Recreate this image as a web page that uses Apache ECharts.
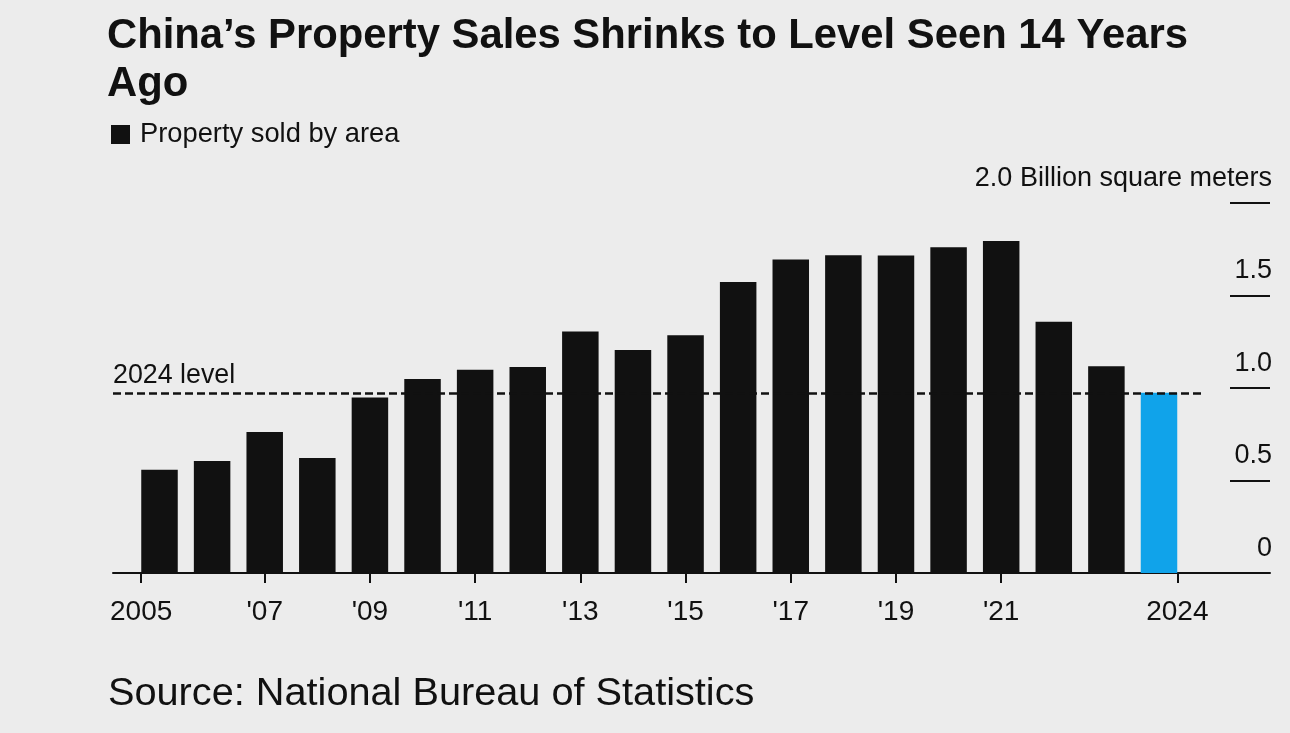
<!DOCTYPE html>
<html>
<head>
<meta charset="utf-8">
<script src="https://cdn.jsdelivr.net/npm/echarts@6/dist/echarts.min.js"></script>
<style>
html,body{margin:0;padding:0;background:#ececec;}
#chart{width:1290px;height:733px;}
</style>
</head>
<body>
<div id="chart"></div>
<script>
// ---- data ----
const years = [2005,2006,2007,2008,2009,2010,2011,2012,2013,2014,2015,2016,2017,2018,2019,2020,2021,2022,2023,2024];
const soldArea = [0.558,0.606,0.762,0.621,0.948,1.048,1.099,1.113,1.306,1.206,1.285,1.573,1.694,1.717,1.716,1.761,1.794,1.358,1.117,0.974];
const tickYears = [2005,2007,2009,2011,2013,2015,2017,2019,2021,2024];
const tickLabels = ['2005',"'07","'09","'11","'13","'15","'17","'19","'21",'2024'];
const yTicks = [0,0.5,1.0,1.5,2.0];
const yTickLabels = ['0','0.5','1.0','1.5','2.0 Billion square meters'];

const FONT = '"Liberation Sans", Arial, Helvetica, sans-serif';
const INK = '#111111';
const BLUE = '#10a3ea';
const halfBar = 0.348; // half bar width in years
const xMin = 2004.116, xMax = 2026.11;

// first/last tick sit on outer bar edges
const tickPos = tickYears.map((y,i)=> i===0 ? y-halfBar : (i===tickYears.length-1 ? y+halfBar : y));

const level = soldArea[soldArea.length-1];
const lastYear = years[years.length-1];

const chart = echarts.init(document.getElementById('chart'));
chart.setOption({
  backgroundColor:'#ececec',
  animation:false,
  textStyle:{fontFamily:FONT},
  title:{
    text:"China’s Property Sales Shrinks to Level Seen 14 Years\nAgo",
    left:102, top:7,
    textStyle:{fontFamily:FONT,fontSize:41.8,fontWeight:'bold',color:INK,lineHeight:48}
  },
  legend:{
    left:106, top:116,
    icon:'rect', itemWidth:19, itemHeight:19,
    textStyle:{fontFamily:FONT,fontSize:27.3,color:INK,padding:[0,0,0,5]},
    data:['Property sold by area']
  },
  grid:{left:113,right:20,top:203,bottom:160,containLabel:false},
  xAxis:{
    type:'value', min:xMin, max:xMax,
    splitLine:{show:false},
    axisLine:{show:true,lineStyle:{color:INK,width:2}},
    axisTick:{show:true,length:10,lineStyle:{color:INK,width:2},customValues:tickPos},
    axisLabel:{
      show:true, customValues:tickPos, margin:25,
      fontFamily:FONT,fontSize:28,color:INK,
      formatter:function(v){
        let best=0,bd=1e9;
        tickPos.forEach((p,i)=>{const d=Math.abs(p-v); if(d<bd){bd=d;best=i;}});
        return tickLabels[best];
      }
    }
  },
  yAxis:{
    type:'value', min:0, max:2, interval:0.5, position:'right',
    splitLine:{show:false},
    axisLine:{show:false},
    axisTick:{show:true,inside:true,length:40,lineStyle:{color:INK,width:2}},
    axisLabel:{
      show:true, inside:true, margin:-2,
      verticalAlign:'bottom', padding:[0,0,11,0],
      fontFamily:FONT,fontSize:27,color:INK,
      formatter:function(v){
        const i = yTicks.findIndex(t=>Math.abs(t-v)<1e-6);
        return i>=0 ? yTickLabels[i] : '';
      }
    }
  },
  series:[{
    name:'Property sold by area',
    type:'bar',
    barWidth:36.5,
    itemStyle:{color:INK},
    data:years.map((y,i)=>({value:[y,soldArea[i]], itemStyle:{color: y===lastYear?BLUE:INK}})),
    markLine:{
      silent:true, symbol:['none','none'],
      lineStyle:{color:INK,type:[8,4],width:2.5},
      label:{show:true,position:'insideStartTop',formatter:'2024 level',fontFamily:FONT,fontSize:26.8,color:INK,distance:[0,4]},
      data:[[{coord:[xMin,level]},{coord:[lastYear+0.87,level]}]]
    }
  }],
  graphic:[{
    type:'text', left:108, top:674,
    style:{text:'Source: National Bureau of Statistics',font:'39.7px '+FONT,fill:INK}
  }]
});
</script>
</body>
</html>
